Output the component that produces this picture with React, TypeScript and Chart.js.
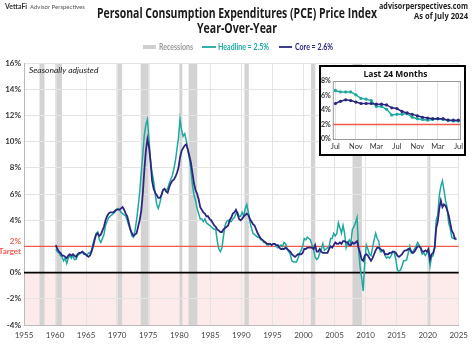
import React, { useEffect, useRef } from "react";
import { Chart, registerables } from "chart.js";
Chart.register(...registerables);

// Quarterly YoY % (1960 Q1 .. 2024 Q3)
const startYear = 1960;
const headlineQ: number[] = [
  1.8, 1.6, 1.5, 1.3, 1.2, 0.9, 1.1, 0.7, 1.1, 1.3, 1.1, 1.3, 1.0, 1.0, 1.3, 1.4,
  1.5, 1.6, 1.4, 1.4, 1.3, 1.5, 1.5, 1.7, 2.2, 2.6, 3.0, 3.1, 2.5, 2.3, 2.6, 2.9,
  3.6, 3.9, 4.2, 4.3, 4.4, 4.5, 4.6, 4.8, 4.9, 4.8, 4.6, 4.5, 4.4, 4.3, 4.0, 3.6,
  3.3, 2.8, 2.7, 3.2, 4.0, 5.0, 6.1, 7.6, 9.0, 10.5, 11.3, 11.7, 10.2, 8.5, 7.6, 7.0,
  6.0, 5.2, 4.9, 5.3, 5.9, 6.3, 6.4, 6.3, 6.4, 6.8, 7.1, 7.4, 7.9, 8.5, 9.4, 10.3,
  11.7, 10.9, 10.4, 10.6, 10.1, 9.4, 8.8, 7.8, 6.7, 5.9, 5.5, 4.9, 4.5, 4.1, 4.1, 3.9,
  4.1, 3.8, 3.7, 3.6, 3.5, 3.4, 3.3, 3.3, 2.4, 1.8, 1.6, 1.9, 2.8, 3.6, 3.9, 4.0,
  3.9, 3.9, 4.1, 4.2, 4.5, 4.6, 4.3, 4.3, 4.6, 4.3, 4.9, 5.2, 4.6, 3.9, 3.4, 3.0,
  2.9, 2.8, 2.7, 2.7, 2.5, 2.5, 2.3, 2.3, 2.1, 2.1, 2.2, 2.1, 2.2, 2.2, 2.0, 1.9,
  2.0, 2.1, 2.0, 2.3, 2.2, 1.8, 1.6, 1.4, 0.9, 0.8, 0.8, 0.8, 1.1, 1.5, 1.7, 2.0,
  2.6, 2.5, 2.7, 2.6, 2.5, 2.1, 1.8, 1.2, 1.0, 1.1, 1.5, 1.8, 2.2, 1.7, 1.8, 1.9,
  2.0, 2.6, 2.6, 3.0, 2.8, 3.0, 3.8, 3.4, 3.0, 3.6, 3.0, 1.9, 2.3, 2.5, 2.2, 3.3,
  3.5, 3.8, 4.2, 1.8, 0.4, -0.4, -1.4, 0.9, 2.1, 1.8, 1.4, 1.3, 1.9, 2.5, 3.0, 2.6,
  2.4, 1.6, 1.6, 1.7, 1.3, 1.1, 1.2, 1.1, 1.3, 1.6, 1.5, 1.0, 0.2, 0.1, 0.2, 0.5,
  0.9, 0.9, 1.0, 1.5, 2.0, 1.5, 1.6, 1.8, 2.0, 2.3, 2.1, 1.8, 1.4, 1.5, 1.3, 1.5,
  1.6, 0.5, 1.2, 1.3, 1.9, 4.0, 4.4, 5.9, 6.6, 7.0, 6.3, 5.5, 5.0, 3.8, 3.4, 2.7,
  2.6, 2.6, 2.5,
];
const coreQ: number[] = [
  2.1, 1.8, 1.6, 1.5, 1.3, 1.3, 1.2, 1.1, 1.3, 1.4, 1.3, 1.4, 1.3, 1.2, 1.4, 1.5,
  1.5, 1.6, 1.5, 1.4, 1.3, 1.2, 1.3, 1.6, 2.0, 2.5, 2.9, 3.0, 2.8, 2.9, 3.2, 3.5,
  4.0, 4.3, 4.5, 4.6, 4.6, 4.6, 4.7, 4.8, 4.8, 4.8, 4.9, 5.0, 4.8, 4.5, 4.3, 3.8,
  3.3, 3.0, 2.8, 2.9, 3.0, 3.5, 4.0, 4.7, 6.0, 7.8, 9.3, 10.2, 9.6, 8.5, 7.0, 6.4,
  6.1, 5.9, 5.7, 5.7, 5.9, 6.3, 6.4, 6.2, 6.1, 6.5, 6.8, 7.0, 7.1, 7.3, 7.6, 8.0,
  8.8, 9.3, 9.5, 9.7, 9.8, 9.4, 8.9, 8.4, 7.6, 6.8, 6.3, 6.0, 5.6, 5.0, 4.8, 4.6,
  4.5, 4.3, 4.3, 4.1, 4.0, 3.8, 3.6, 3.5, 3.3, 3.2, 3.1, 3.1, 3.3, 3.4, 3.5, 3.6,
  4.0, 4.2, 4.5, 4.6, 4.8, 4.5, 4.1, 4.0, 4.1, 4.3, 4.4, 4.5, 4.4, 4.1, 3.9, 3.7,
  3.6, 3.3, 3.0, 2.8, 2.6, 2.5, 2.4, 2.3, 2.2, 2.2, 2.2, 2.1, 2.2, 2.2, 2.1, 2.1,
  1.9, 1.8, 1.8, 1.8, 1.9, 1.8, 1.7, 1.6, 1.4, 1.3, 1.2, 1.3, 1.4, 1.4, 1.4, 1.5,
  1.8, 1.8, 1.9, 1.9, 1.9, 1.9, 1.8, 2.1, 1.6, 1.6, 1.8, 1.6, 1.5, 1.5, 1.5, 1.5,
  1.8, 2.0, 1.9, 2.1, 2.3, 2.2, 2.2, 2.3, 2.2, 2.4, 2.4, 2.3, 2.3, 2.1, 2.1, 2.3,
  2.2, 2.3, 2.4, 1.9, 1.5, 1.0, 0.9, 1.3, 1.4, 1.3, 1.1, 0.9, 1.1, 1.4, 1.7, 1.9,
  1.9, 1.8, 1.7, 1.7, 1.4, 1.4, 1.4, 1.5, 1.5, 1.6, 1.6, 1.5, 1.3, 1.2, 1.3, 1.4,
  1.6, 1.7, 1.7, 1.8, 1.8, 1.6, 1.5, 1.6, 1.8, 2.0, 2.0, 1.9, 1.6, 1.6, 1.7, 1.6,
  1.8, 1.0, 1.4, 1.5, 1.9, 3.4, 3.9, 4.9, 5.5, 5.0, 5.2, 5.1, 4.8, 4.4, 3.8, 3.2,
  3.0, 2.6, 2.6,
];

const recessions: [number, number][] = [
  [1957.5, 1958.3], [1960.2, 1961.1], [1969.9, 1970.8], [1973.8, 1975.2],
  [1980.0, 1980.5], [1981.5, 1982.9], [1990.5, 1991.2], [2001.2, 2001.9],
  [2007.9, 2009.4], [2020.1, 2020.35],
];

const yTicks = [-4, -2, 0, 2, 4, 6, 8, 10, 12, 14, 16];
const insetYTicks = [0, 2, 4, 6, 8];

// Inset: Jul 2022 .. Jul 2024 (monthly)
const insetMonths = [
  "Jul", "Aug", "Sep", "Oct", "Nov", "Dec", "Jan", "Feb", "Mar", "Apr", "May", "Jun",
  "Jul", "Aug", "Sep", "Oct", "Nov", "Dec", "Jan", "Feb", "Mar", "Apr", "May", "Jun", "Jul",
];
const insetHeadline = [
  6.7, 6.5, 6.5, 6.5, 6.1, 5.6, 5.5, 5.3, 4.5, 4.5, 4.1, 3.3,
  3.4, 3.4, 3.5, 3.0, 2.8, 2.7, 2.6, 2.7, 2.8, 2.7, 2.6, 2.5, 2.5,
];
const insetCore = [
  4.9, 5.2, 5.4, 5.3, 5.1, 4.9, 4.9, 4.9, 4.8, 4.8, 4.7, 4.3,
  4.2, 3.8, 3.6, 3.4, 3.2, 3.0, 2.9, 2.8, 2.8, 2.8, 2.6, 2.6, 2.6,
];

const TEAL = "#1fa89f";
const PURPLE = "#2b2680";
const RED = "#f25a50";
const FONT = "Lato, 'Open Sans', sans-serif";
const TFONT = "'Open Sans', Lato, sans-serif";

const toPoints = (arr: number[]) =>
  arr.map((v, i) => ({ x: startYear + i * 0.25 + 0.125, y: v }));

const mainPlugin = {
  id: "mainDeco",
  beforeDraw(chart: any) {
    const { ctx, chartArea: a, scales } = chart;
    const x = scales.x, y = scales.y;
    ctx.save();
    ctx.fillStyle = "#ffffff";
    ctx.fillRect(0, 0, chart.width, chart.height);
    const y0 = y.getPixelForValue(0);
    ctx.fillStyle = "#fdeaea";
    ctx.fillRect(a.left, y0, a.right - a.left, a.bottom - y0);
    ctx.fillStyle = "#d3d3d3";
    for (const [s, e] of recessions) {
      const x1 = x.getPixelForValue(s);
      const x2 = x.getPixelForValue(e);
      ctx.fillRect(x1, a.top, Math.max(x2 - x1, 2), a.bottom - a.top);
    }
    ctx.restore();
  },
  beforeDatasetsDraw(chart: any) {
    const { ctx, chartArea: a, scales } = chart;
    const y = scales.y;
    ctx.save();
    const y2 = y.getPixelForValue(2);
    ctx.strokeStyle = RED;
    ctx.lineWidth = 1.2;
    ctx.beginPath();
    ctx.moveTo(a.left, y2);
    ctx.lineTo(a.right, y2);
    ctx.stroke();
    const y0 = y.getPixelForValue(0);
    ctx.strokeStyle = "#000";
    ctx.lineWidth = 1.6;
    ctx.beginPath();
    ctx.moveTo(a.left, y0);
    ctx.lineTo(a.right, y0);
    ctx.stroke();
    ctx.restore();
  },
  afterDraw(chart: any) {
    const { ctx, chartArea: a } = chart;
    ctx.save();
    ctx.textBaseline = "middle";
    // top-left brand
    ctx.fillStyle = "#333";
    ctx.textAlign = "left";
    ctx.font = `bold 7px ${FONT}`;
    ctx.fillText("VettaFi", 5, 7);
    ctx.font = `6px ${FONT}`;
    ctx.fillStyle = "#555";
    ctx.fillText("Advisor Perspectives", 30, 7.5);
    // top-right
    ctx.textAlign = "right";
    ctx.fillStyle = "#222";
    ctx.font = `bold 8px ${TFONT}`;
    ctx.fillText("advisorperspectives.com", 468, 7, 89);
    ctx.fillText("As of July 2024", 468, 17, 54);
    // title
    ctx.textAlign = "center";
    ctx.fillStyle = "#1a1a1a";
    ctx.font = `bold 14px ${TFONT}`;
    ctx.fillText("Personal Consumption Expenditures (PCE) Price Index", 237, 14, 280);
    ctx.fillText("Year-Over-Year", 237, 29, 80);
    // legend
    const ly = 47;
    ctx.font = `bold 8.5px ${FONT}`;
    ctx.textAlign = "left";
    ctx.fillStyle = "#cfcfcf";
    ctx.fillRect(143, ly - 2, 13, 4);
    ctx.fillStyle = "#999";
    ctx.fillText("Recessions", 159, ly, 34);
    ctx.strokeStyle = TEAL;
    ctx.lineWidth = 1.8;
    ctx.beginPath();
    ctx.moveTo(202, ly);
    ctx.lineTo(216, ly);
    ctx.stroke();
    ctx.fillStyle = TEAL;
    ctx.fillText("Headline = 2.5%", 218, ly, 51);
    ctx.strokeStyle = PURPLE;
    ctx.beginPath();
    ctx.moveTo(279, ly);
    ctx.lineTo(292, ly);
    ctx.stroke();
    ctx.fillStyle = PURPLE;
    ctx.fillText("Core = 2.6%", 295, ly, 38);
    // seasonally adjusted
    ctx.fillStyle = "#222";
    ctx.font = `italic 8.5px ${FONT}`;
    ctx.fillText("Seasonally adjusted", a.left + 5, a.top + 7);
    ctx.restore();
  },
};

const insetPlugin = {
  id: "insetDeco",
  beforeDraw(chart: any) {
    const { ctx } = chart;
    ctx.save();
    ctx.fillStyle = "#fff";
    ctx.fillRect(0, 0, chart.width, chart.height);
    ctx.restore();
  },
  beforeDatasetsDraw(chart: any) {
    const { ctx, chartArea: a, scales } = chart;
    const y2 = scales.y.getPixelForValue(2);
    ctx.save();
    ctx.strokeStyle = RED;
    ctx.lineWidth = 1.5;
    ctx.beginPath();
    ctx.moveTo(a.left, y2);
    ctx.lineTo(a.right, y2);
    ctx.stroke();
    ctx.restore();
  },
  afterDraw(chart: any) {
    const { ctx, chartArea: a } = chart;
    ctx.save();
    ctx.strokeStyle = "#999";
    ctx.lineWidth = 1;
    ctx.strokeRect(a.left + 0.5, a.top + 0.5, a.right - a.left - 1, a.bottom - a.top);
    ctx.strokeStyle = "#000";
    ctx.lineWidth = 2;
    ctx.strokeRect(1, 1, chart.width - 2, chart.height - 2);
    ctx.fillStyle = "#111";
    ctx.font = `bold 9px ${TFONT}`;
    ctx.textAlign = "center";
    ctx.textBaseline = "middle";
    ctx.fillText("Last 24 Months", chart.width / 2 + 3, 9, 64);
    ctx.restore();
  },
};

export default function App() {
  const mainRef = useRef<HTMLCanvasElement>(null);
  const insetRef = useRef<HTMLCanvasElement>(null);

  useEffect(() => {
    const main = new Chart(mainRef.current as HTMLCanvasElement, {
      type: "line",
      data: {
        datasets: [
          {
            label: "Core",
            data: toPoints(coreQ),
            borderColor: PURPLE,
            borderWidth: 1.8,
            pointRadius: 0,
            tension: 0,
          },
          {
            label: "Headline",
            data: toPoints(headlineQ),
            borderColor: TEAL,
            borderWidth: 1.5,
            pointRadius: 0,
            tension: 0,
          },
        ],
      },
      options: {
        animation: false,
        responsive: false,
        devicePixelRatio: 1,
        layout: { padding: { top: 63, right: 7, left: 0, bottom: 0 } },
        plugins: { legend: { display: false }, tooltip: { enabled: false } },
        scales: {
          x: {
            type: "linear",
            min: 1955,
            max: 2025,
            afterFit: (s: any) => { s.height = 19; },
            ticks: {
              stepSize: 5,
              autoSkip: false,
              maxRotation: 0,
              padding: 6,
              color: "#444",
              font: { family: FONT, size: 8 },
              callback: (v: any) => String(v),
            },
            grid: { color: "#e4e4e4", drawTicks: false },
            border: { color: "#bbb" },
          },
          y: {
            min: -4,
            max: 16,
            afterFit: (s: any) => { s.width = 24; },
            afterBuildTicks: (s: any) => { s.ticks = yTicks.map((v) => ({ value: v })); },
            ticks: {
              padding: 3,
              color: (c: any) => (c.tick && c.tick.value === 2 ? RED : "#333"),
              font: { family: FONT, size: 8, weight: "bold" },
              callback: (v: any) => (v === 2 ? ["2%", "Target"] : `${v}%`),
            },
            grid: { color: "#e4e4e4", drawTicks: false },
            border: { color: "#bbb" },
          },
        },
      },
      plugins: [mainPlugin],
    } as any);

    const inset = new Chart(insetRef.current as HTMLCanvasElement, {
      type: "line",
      data: {
        labels: insetMonths,
        datasets: [
          {
            label: "Core",
            data: insetCore,
            borderColor: PURPLE,
            backgroundColor: PURPLE,
            borderWidth: 1.5,
            pointRadius: 1.6,
            pointBorderWidth: 0,
          },
          {
            label: "Headline",
            data: insetHeadline,
            borderColor: TEAL,
            backgroundColor: TEAL,
            borderWidth: 1.5,
            pointRadius: 1.6,
            pointBorderWidth: 0,
          },
        ],
      },
      options: {
        animation: false,
        responsive: false,
        devicePixelRatio: 1,
        layout: { padding: { top: 16, right: 5, left: 0, bottom: 0 } },
        plugins: { legend: { display: false }, tooltip: { enabled: false } },
        scales: {
          x: {
            offset: true,
            afterFit: (s: any) => { s.height = 17; },
            ticks: {
              autoSkip: false,
              maxRotation: 0,
              padding: 3,
              color: "#333",
              font: { family: FONT, size: 7.5 },
              callback: (_v: any, i: number) => (i % 4 === 0 ? insetMonths[i] : ""),
            },
            grid: {
              color: (c: any) => (c.index % 4 === 0 ? "#e2e2e2" : "rgba(0,0,0,0)"),
              drawTicks: false,
            },
            border: { display: false },
          },
          y: {
            type: "linear",
            min: 0,
            max: 8,
            afterBuildTicks: (s: any) => { s.ticks = insetYTicks.map((v) => ({ value: v })); },
            ticks: {
              display: true,
              padding: 2,
              color: "#333",
              font: { family: FONT, size: 7, weight: "bold" },
              callback: (v: any) => `${v}%`,
            },
            grid: { display: true, drawOnChartArea: false, drawTicks: false },
            border: { display: false },
          },
        },
      },
      plugins: [insetPlugin],
    } as any);

    return () => {
      main.destroy();
      inset.destroy();
    };
  }, []);

  return (
    <div style={{ position: "fixed", left: 0, top: 0, width: 474, height: 344, background: "#fff" }}>
      <canvas ref={mainRef} width={474} height={344} style={{ position: "absolute", left: 0, top: 0 }} />
      <canvas ref={insetRef} width={147} height={91} style={{ position: "absolute", left: 319, top: 65 }} />
    </div>
  );
}
